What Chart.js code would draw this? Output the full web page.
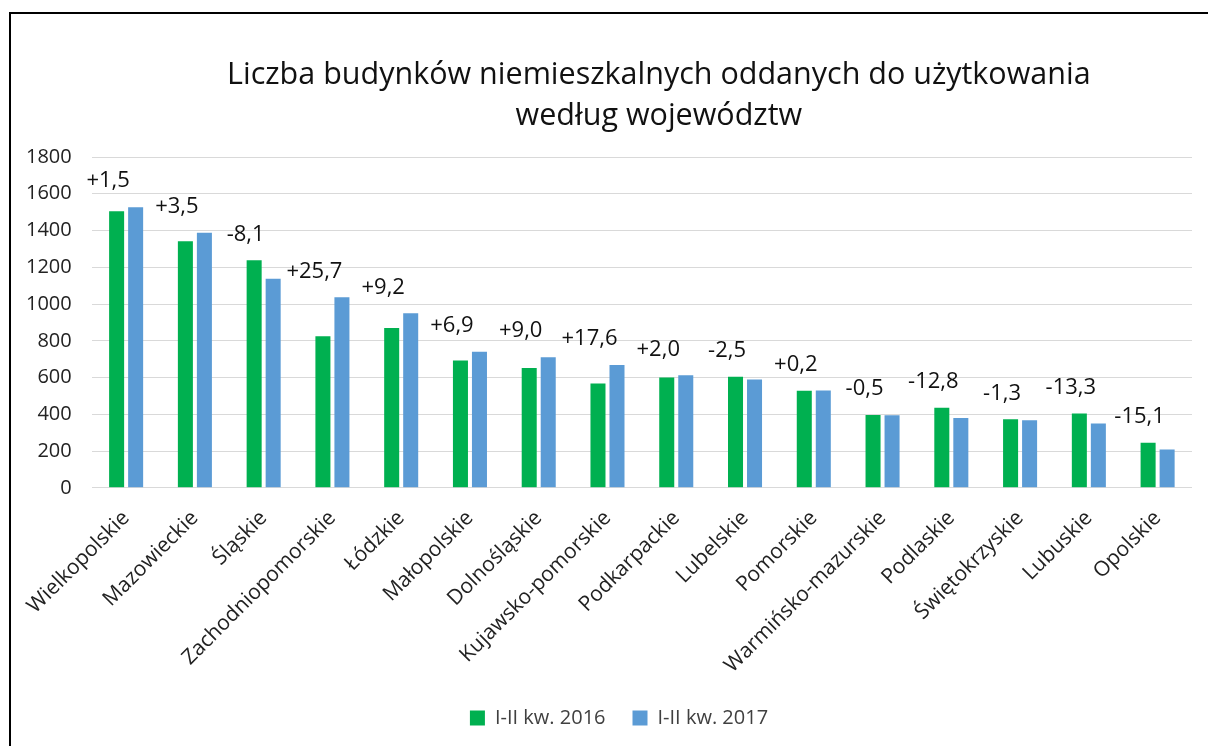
<!DOCTYPE html>
<html>
<head>
<meta charset="utf-8">
<script src="https://cdn.jsdelivr.net/npm/chart.js@4.4.1/dist/chart.umd.min.js"></script>
<style>
  body { margin: 0; background: #fff; overflow: hidden; }
  #ramka { position: absolute; left: 9px; top: 12px; width: 1300px; height: 800px; border: 2px solid #000; pointer-events: none; }
  #wykres { position: absolute; left: 0; top: 0; width: 1208px; height: 746px; }
</style>
</head>
<body>
<div id="wykres"><canvas id="budynki"></canvas></div>
<div id="ramka"></div>
<script>
// dane
const wojewodztwa = ['Wielkopolskie', 'Mazowieckie', 'Śląskie', 'Zachodniopomorskie', 'Łódzkie', 'Małopolskie',
  'Dolnośląskie', 'Kujawsko-pomorskie', 'Podkarpackie', 'Lubelskie', 'Pomorskie', 'Warmińsko-mazurskie',
  'Podlaskie', 'Świętokrzyskie', 'Lubuskie', 'Opolskie'];
const rok2016 = [1505, 1342, 1238, 825, 870, 693, 652, 568, 600, 605, 528, 397, 436, 373, 404, 246];
const rok2017 = [1527, 1388, 1138, 1037, 950, 740, 711, 668, 612, 590, 529, 395, 380, 368, 350, 209];
const zmiana = [1.5, 3.5, -8.1, 25.7, 9.2, 6.9, 9.0, 17.6, 2.0, -2.5, 0.2, -0.5, -12.8, -1.3, -13.3, -15.1];
const tytul = ['Liczba budynków niemieszkalnych oddanych do użytkowania', 'według województw'];

const czcionka = "'Open Sans', 'Noto Sans', sans-serif";

// tytul rysowany recznie (przesuniety w prawo jak w oryginale)
const tytulPlugin = {
  id: 'tytul',
  afterLayout(chart) {
    // legenda lekko w prawo, jak w oryginale
    chart.legend.left += 20;
    chart.legend.right += 20;
  },
  afterDraw(chart) {
    const ctx = chart.ctx;
    const a = chart.chartArea;
    const x = (a.left + a.right) / 2 + 17;
    ctx.save();
    ctx.font = '30.5px ' + czcionka;
    ctx.fillStyle = '#111';
    ctx.textAlign = 'center';
    ctx.textBaseline = 'middle';
    ctx.fillText(tytul[0], x, 75);
    ctx.fillText(tytul[1], x, 116);
    ctx.restore();
  }
};

// etykiety ze zmiana procentowa nad kazda para slupkow
const zmianaPlugin = {
  id: 'zmiana',
  afterDatasetsDraw(chart) {
    const ctx = chart.ctx;
    const xs = chart.scales.x, ys = chart.scales.y;
    ctx.save();
    ctx.font = '22px ' + czcionka;
    ctx.fillStyle = '#111';
    ctx.textAlign = 'center';
    ctx.textBaseline = 'middle';
    zmiana.forEach((z, i) => {
      const txt = (z > 0 ? '+' : '') + z.toFixed(1).replace('.', ',');
      const maks = Math.max(rok2016[i], rok2017[i]);
      ctx.fillText(txt, xs.getPixelForValue(i) - 18, ys.getPixelForValue(maks) - 26);
    });
    ctx.restore();
  }
};

const ctx = document.getElementById('budynki').getContext('2d');
new Chart(ctx, {
  type: 'bar',
  data: {
    labels: wojewodztwa,
    datasets: [{
      label: 'I-II kw. 2016',
      data: rok2016,
      backgroundColor: '#00B050',
      categoryPercentage: 0.553,
      barPercentage: 0.79
    }, {
      label: 'I-II kw. 2017',
      data: rok2017,
      backgroundColor: '#5B9BD5',
      categoryPercentage: 0.553,
      barPercentage: 0.79
    }]
  },
  options: {
    responsive: true,
    maintainAspectRatio: false,
    animation: false,
    layout: { padding: { top: 157, left: 6, right: 16, bottom: 8 } },
    plugins: {
      title: { display: false },
      tooltip: { enabled: false },
      legend: {
        position: 'bottom',
        labels: {
          boxWidth: 15,
          boxHeight: 15,
          padding: 27,
          color: '#404040',
          font: { family: czcionka, size: 20 }
        }
      }
    },
    scales: {
      x: {
        grid: { display: false },
        border: { display: false },
        ticks: {
          minRotation: 45,
          maxRotation: 45,
          padding: 10,
          color: '#222',
          font: { family: czcionka, size: 21 }
        },
        // pierwsza etykieta moze wystawac pod os Y, jak w Excelu
        afterFit(scale) {
          scale.paddingLeft = 0;
          scale.height -= 7;
        }
      },
      y: {
        min: 0,
        max: 1800,
        ticks: {
          stepSize: 200,
          padding: 20,
          color: '#222',
          font: { family: czcionka, size: 20 },
          callback: v => String(v)
        },
        grid: { color: '#d9d9d9', drawTicks: false },
        border: { display: false }
      }
    }
  },
  plugins: [tytulPlugin, zmianaPlugin]
});
</script>
</body>
</html>
